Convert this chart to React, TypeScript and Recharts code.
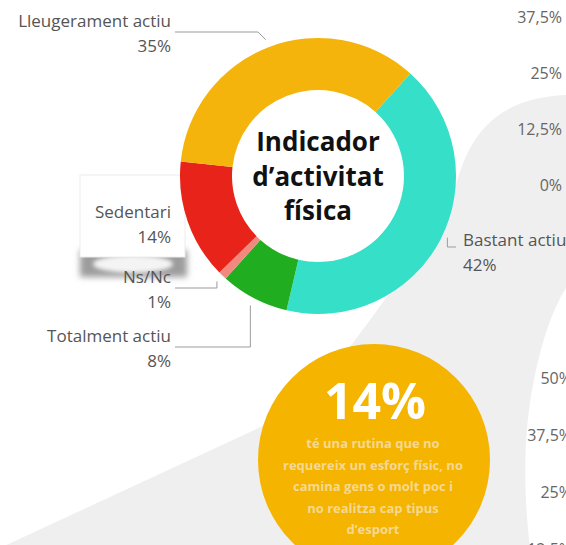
import React from 'react';
import { PieChart, Pie, Cell } from 'recharts';

// ---- data ----
const categories = ['Bastant actiu', 'Totalment actiu', 'Ns/Nc', 'Sedentari', 'Lleugerament actiu'];
const values = [42, 8, 1, 14, 35];
const sliceColors = ['#35DFC8', '#20AD1F', '#F2897E', '#E8241A', '#F5B40B'];
const titleLines = ['Indicador', 'd\u2019activitat', 'física'];
const topAxisTicks = ['37,5%', '25%', '12,5%', '0%'];
const bottomAxisTicks = ['50%', '37,5%', '25%', '12,5%'];
const calloutValue = '14%';
const calloutLines = [
  'té una rutina que no',
  'requereix un esforç físic, no',
  'camina gens o molt poc i',
  'no realitza cap tipus',
  'd\u2019esport',
];

const pieData = categories.map((name, i) => ({ name, value: values[i] }));

// ---- layout (positions/styles kept apart from data) ----
const W = 566;
const H = 545;
const FONT = "'Open Sans', 'Noto Sans', sans-serif";
const LABEL_COLOR = '#555555';
const LINE_COLOR = '#9b9b9b';
const GREY_BG = '#EFEFEF';

type Lay = { side: 'left' | 'right'; lineY: number; textY: number; diag?: boolean; noLine?: boolean };
const LABEL_LAYOUT: Record<string, Lay> = {
  'Lleugerament actiu': { side: 'left', lineY: 32, textY: 27, diag: true },
  Sedentari: { side: 'left', lineY: 223, textY: 218, noLine: true },
  'Ns/Nc': { side: 'left', lineY: 288, textY: 283 },
  'Totalment actiu': { side: 'left', lineY: 347, textY: 342 },
  'Bastant actiu': { side: 'right', lineY: 247, textY: 246 },
};
const LEFT_TEXT_X = 171;
const LEFT_LINE_END = 175;
const RIGHT_TEXT_X = 463;
const RIGHT_LINE_END = 456;

const RAD = Math.PI / 180;

function renderLabel(props: any) {
  const { cx, cy, midAngle, outerRadius, index } = props;
  const name = categories[index];
  const lay = LABEL_LAYOUT[name];
  if (!lay) return null;
  const r = outerRadius + 8;
  const sx = cx + r * Math.cos(-midAngle * RAD);
  const sy = cy + r * Math.sin(-midAngle * RAD);
  let pts = '';
  if (lay.side === 'left') {
    const ex = lay.diag ? sx - Math.abs(sy - lay.lineY) : sx;
    pts = `${sx},${sy} ${ex},${lay.lineY} ${LEFT_LINE_END},${lay.lineY}`;
  } else {
    pts = `${sx},${sy - 6} ${sx},${lay.lineY} ${RIGHT_LINE_END},${lay.lineY}`;
  }
  const tx = lay.side === 'left' ? LEFT_TEXT_X : RIGHT_TEXT_X;
  const anchor = lay.side === 'left' ? 'end' : 'start';
  return (
    <g key={`lbl-${index}`}>
      {!lay.noLine && <polyline points={pts} fill="none" stroke={LINE_COLOR} strokeWidth={1} />}
      <text x={tx} y={lay.textY} textAnchor={anchor} fontFamily={FONT} fontSize={17} fill={LABEL_COLOR}>
        {name}
      </text>
      <text x={tx} y={lay.textY + 25} textAnchor={anchor} fontFamily={FONT} fontSize={17} fill={LABEL_COLOR}>
        {`${values[index]}%`}
      </text>
    </g>
  );
}

export default function App() {
  return (
    <div
      style={{
        position: 'absolute',
        left: 0,
        top: 0,
        width: W,
        height: H,
        overflow: 'hidden',
        background: '#ffffff',
      }}
    >
      {/* background decorations */}
      <svg width={W} height={H} style={{ position: 'absolute', left: 0, top: 0 }}>
        <defs>
          <filter id="blur3" x="-20%" y="-50%" width="140%" height="200%">
            <feGaussianBlur stdDeviation="3" />
          </filter>
          <filter id="blur2" x="-20%" y="-50%" width="140%" height="200%">
            <feGaussianBlur stdDeviation="2" />
          </filter>
        </defs>
        <path
          d="M566,95 C505,98 472,125 456,185 L392,290 C362,330 322,390 280,418 L0,548 L566,548 Z"
          fill={GREY_BG}
        />
        <path d="M566,288 C552,310 540,345 532,390 C525,430 522,480 530,548 L566,548 Z" fill="#ffffff" />

        {/* neighbouring axis ticks */}
        {topAxisTicks.map((t, i) => (
          <text key={`tt${i}`} x={562} y={23 + i * 56} textAnchor="end" fontFamily={FONT} fontSize={16} fill="#666666">
            {t}
          </text>
        ))}
        {bottomAxisTicks.map((t, i) => (
          <text key={`bt${i}`} x={572} y={384 + i * 57} textAnchor="end" fontFamily={FONT} fontSize={16} fill="#666666">
            {t}
          </text>
        ))}

        {/* Sedentari box with shadow */}
        <rect x={80} y={250} width={107} height={27} fill="#9c9c9c" filter="url(#blur3)" />
        <ellipse cx={133} cy={264} rx={40} ry={9} fill="#f4f4f4" filter="url(#blur2)" />
        <rect x={80} y={175} width={105} height={82} fill="#ffffff" stroke="#ececec" strokeWidth={1} />

        {/* callout circle */}
        <circle cx={374} cy={460} r={116} fill="#F4B400" />
        <text x={375} y={419} textAnchor="middle" fontFamily={FONT} fontWeight={700} fontSize={50} fill="#ffffff">
          {calloutValue}
        </text>
        {calloutLines.map((l, i) => (
          <text
            key={`cl${i}`}
            x={373}
            y={448 + i * 21.5}
            textAnchor="middle"
            fontFamily={FONT}
            fontWeight={700}
            fontSize={13}
            fill="#F6D892"
          >
            {l}
          </text>
        ))}
      </svg>

      <div style={{ position: 'absolute', left: 0, top: 0 }}>
        <PieChart width={W} height={H} margin={{ top: 0, right: 0, bottom: 0, left: 0 }}>
          <Pie
            data={pieData}
            dataKey="value"
            nameKey="name"
            cx={318}
            cy={176}
            innerRadius={86}
            outerRadius={138}
            startAngle={48}
            endAngle={-312}
            stroke="none"
            isAnimationActive={false}
            label={renderLabel}
            labelLine={false}
          >
            {pieData.map((d, i) => (
              <Cell key={d.name} fill={sliceColors[i]} />
            ))}
          </Pie>
        </PieChart>
      </div>

      <svg width={W} height={H} style={{ position: 'absolute', left: 0, top: 0, pointerEvents: 'none' }}>
        {titleLines.map((l, i) => (
          <text
            key={`ti${i}`}
            x={318}
            y={151 + i * 34.5}
            textAnchor="middle"
            fontFamily={FONT}
            fontWeight={700}
            fontSize={26}
            fill="#111111"
          >
            {l}
          </text>
        ))}
      </svg>
    </div>
  );
}
